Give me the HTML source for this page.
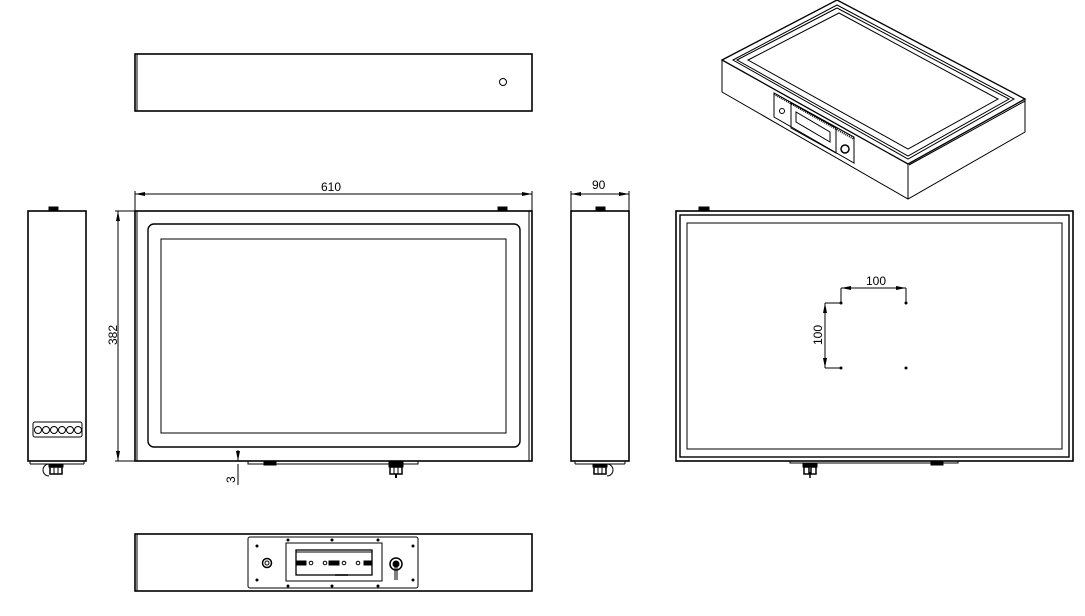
<!DOCTYPE html>
<html><head><meta charset="utf-8"><style>
html,body{margin:0;padding:0;background:#fff;}
svg{display:block}
text{font-family:"Liberation Sans",sans-serif;font-size:12px;fill:#000}
</style></head><body>
<svg width="1085" height="616" viewBox="0 0 1085 616" xmlns="http://www.w3.org/2000/svg">
<defs>
<marker id="a" markerWidth="10" markerHeight="6" refX="10" refY="3" orient="auto-start-reverse" markerUnits="userSpaceOnUse"><path d="M0,1 L10,3 L0,5z" fill="#000"/></marker>
</defs>
<g fill="none" stroke="#000" stroke-width="1">
<rect x="135" y="54" width="397" height="57" stroke-width="1.6"/>
<line x1="137" y1="54" x2="137" y2="111"/>
<circle cx="503" cy="82" r="3.5"/>

<rect x="135" y="211" width="397" height="250" stroke-width="1.6"/>
<line x1="137" y1="211" x2="137" y2="461"/>
<line x1="529" y1="211" x2="529" y2="461"/>
<rect x="148" y="224" width="372" height="223" rx="6" stroke-width="1.4"/>
<rect x="161" y="239" width="345" height="194"/>
<rect x="248" y="461" width="170" height="3"/>
<rect x="264" y="462" width="12" height="3" fill="#000"/>
<rect x="498" y="207" width="9" height="4" fill="#000"/>
<line x1="135" y1="194" x2="532" y2="194" marker-start="url(#a)" marker-end="url(#a)"/>
<line x1="135" y1="191" x2="135" y2="211"/>
<line x1="532" y1="191" x2="532" y2="211"/>
<line x1="118" y1="211" x2="118" y2="461" marker-start="url(#a)" marker-end="url(#a)"/>
<line x1="115" y1="211" x2="135" y2="211"/>
<line x1="115" y1="461" x2="135" y2="461"/>
<line x1="238" y1="450" x2="238" y2="461" marker-end="url(#a)"/>
<line x1="238" y1="485" x2="238" y2="464"/>
<g transform="translate(396,470)">
<rect x="-7" y="-8" width="14" height="5" fill="#000"/>
<rect x="-6" y="-3" width="12" height="7" stroke-width="1.5"/>
<line x1="-2" y1="-3" x2="-2" y2="4"/><line x1="2" y1="-3" x2="2" y2="4"/>
<line x1="0" y1="4" x2="0" y2="8" stroke-width="2"/>
</g>

<rect x="28" y="211" width="58" height="250" stroke-width="1.6"/>
<line x1="30" y1="461" x2="30" y2="464"/><line x1="84" y1="461" x2="84" y2="464"/><line x1="30" y1="464" x2="84" y2="464"/>
<rect x="49" y="207" width="9" height="4" fill="#000"/>
<rect x="33" y="422" width="49" height="15" rx="2"/>
<circle cx="38" cy="430" r="3.5"/><circle cx="46" cy="430" r="3.5"/><circle cx="54" cy="430" r="3.5"/><circle cx="62" cy="430" r="3.5"/><circle cx="70" cy="430" r="3.5"/><circle cx="78" cy="430" r="3.5"/>
<g transform="translate(56,470)">
<rect x="-7" y="-6" width="14" height="3" fill="#000"/>
<rect x="-6" y="-3" width="12" height="7" stroke-width="1.5"/>
<line x1="-2" y1="-3" x2="-2" y2="4"/><line x1="2" y1="-3" x2="2" y2="4"/>
<path d="M-7,-6 A6,6 0 0 0 -7,6"/>
</g>

<rect x="571" y="211" width="58" height="250" stroke-width="1.6"/>
<line x1="575" y1="461" x2="575" y2="464"/><line x1="625" y1="461" x2="625" y2="464"/><line x1="575" y1="464" x2="625" y2="464"/>
<rect x="596" y="207" width="9" height="4" fill="#000"/>
<line x1="571" y1="194" x2="629" y2="194" marker-start="url(#a)" marker-end="url(#a)"/>
<line x1="571" y1="191" x2="571" y2="211"/><line x1="629" y1="191" x2="629" y2="211"/>
<g transform="translate(600,470)">
<rect x="-7" y="-6" width="14" height="3" fill="#000"/>
<rect x="-6" y="-3" width="12" height="7" stroke-width="1.5"/>
<line x1="-2" y1="-3" x2="-2" y2="4"/><line x1="2" y1="-3" x2="2" y2="4"/>
<path d="M7,-6 A6,6 0 0 1 7,6"/>
</g>

<rect x="676" y="211" width="397" height="250" stroke-width="1.6"/>
<rect x="680" y="215" width="389" height="242" stroke-width="1.4"/>
<rect x="687" y="223" width="375" height="226"/>
<rect x="699" y="207" width="10" height="4" fill="#000"/>
<rect x="790" y="461" width="168" height="2"/>
<rect x="931" y="462" width="12" height="3" fill="#000"/>
<g transform="translate(810,470)">
<rect x="-7" y="-6" width="14" height="3" fill="#000"/>
<rect x="-6" y="-3" width="5" height="7" stroke-width="1.5"/><rect x="1" y="-3" width="5" height="7" stroke-width="1.5"/>
<line x1="0" y1="2" x2="0" y2="8" stroke-width="1.5"/>
</g>
<line x1="841" y1="288" x2="906" y2="288" marker-start="url(#a)" marker-end="url(#a)"/>
<line x1="841" y1="288" x2="841" y2="303"/><line x1="906" y1="288" x2="906" y2="303"/>
<line x1="825" y1="303" x2="825" y2="368" marker-start="url(#a)" marker-end="url(#a)"/>
<line x1="825" y1="303" x2="841" y2="303"/><line x1="825" y1="368" x2="841" y2="368"/>
<circle cx="841" cy="303" r="1" fill="#000"/><circle cx="906" cy="303" r="1" fill="#000"/>
<circle cx="841" cy="368" r="1" fill="#000"/><circle cx="906" cy="368" r="1" fill="#000"/>

<rect x="135" y="534" width="397" height="57" stroke-width="1.6"/>
<line x1="137" y1="534" x2="137" y2="591"/>
<rect x="248" y="537" width="170" height="51" rx="2"/>
<rect x="286" y="543" width="96" height="38"/>
<rect x="296" y="550" width="76" height="25" stroke-width="1.3"/>
<line x1="296" y1="552" x2="372" y2="552"/>
<rect x="296" y="561" width="10" height="4" fill="#000"/><rect x="329" y="561" width="10" height="4" fill="#000"/><rect x="364" y="561" width="8" height="4" fill="#000"/>
<line x1="335" y1="575" x2="348" y2="575" stroke-width="1.5"/>
<circle cx="311" cy="563" r="1.8"/><circle cx="325" cy="563" r="1.8"/><circle cx="344" cy="563" r="1.8"/><circle cx="358" cy="563" r="1.8"/>
<circle cx="267" cy="563" r="4.5" stroke-width="1.5"/><circle cx="267" cy="563" r="2"/>
<circle cx="396" cy="564" r="6" stroke-width="1.5"/><circle cx="396" cy="564" r="3" fill="#000"/>
<line x1="395" y1="566" x2="395" y2="580"/><line x1="397" y1="566" x2="397" y2="580"/>
<g fill="#000" stroke="none">
<circle cx="257" cy="546" r="1.5"/><circle cx="257" cy="580" r="1.5"/><circle cx="413" cy="546" r="1.5"/><circle cx="413" cy="580" r="1.5"/>
<circle cx="288" cy="540" r="1.5"/><circle cx="332" cy="540" r="1.5"/><circle cx="378" cy="540" r="1.5"/>
<circle cx="288" cy="586" r="1.5"/><circle cx="332" cy="586" r="1.5"/><circle cx="378" cy="586" r="1.5"/>
</g>

<path d="M722,60 L837,0 L1025,99 L908,164 Z" stroke-width="1.3"/>
<path d="M722,60 L722,92 L908,199 L1025,132 L1025,99"/>
<line x1="908" y1="164" x2="908" y2="199"/>
<path d="M733,60 L837,5 L1014,99 L908,159 Z"/>
<path d="M737,60 L837,8 L1009,99 L908,156 Z"/>
<path d="M748,60 L839,13 L998,99 L908,149 Z"/>
<path d="M909,165 L1025,101"/>
<path d="M774,93 L774,117 L854,163 L854,137 Z"/>
<path d="M791,103 L791,128 L836,153 L836,128 Z"/>
<path d="M796,112 L796,122 L830,142 L830,132 Z"/>
<circle cx="782" cy="111" r="2.5"/>
<circle cx="845" cy="149" r="4" stroke-width="1.5"/>
<line x1="774" y1="94" x2="854" y2="139" stroke-dasharray="1,1" stroke-width="2"/>
</g>
<text x="321" y="191">610</text>
<text x="592" y="189">90</text>
<text x="866" y="285">100</text>
<text transform="translate(117,345) rotate(-90)">382</text>
<text transform="translate(235,483) rotate(-90)">3</text>
<text transform="translate(822,345) rotate(-90)">100</text>
</svg>
</body></html>
